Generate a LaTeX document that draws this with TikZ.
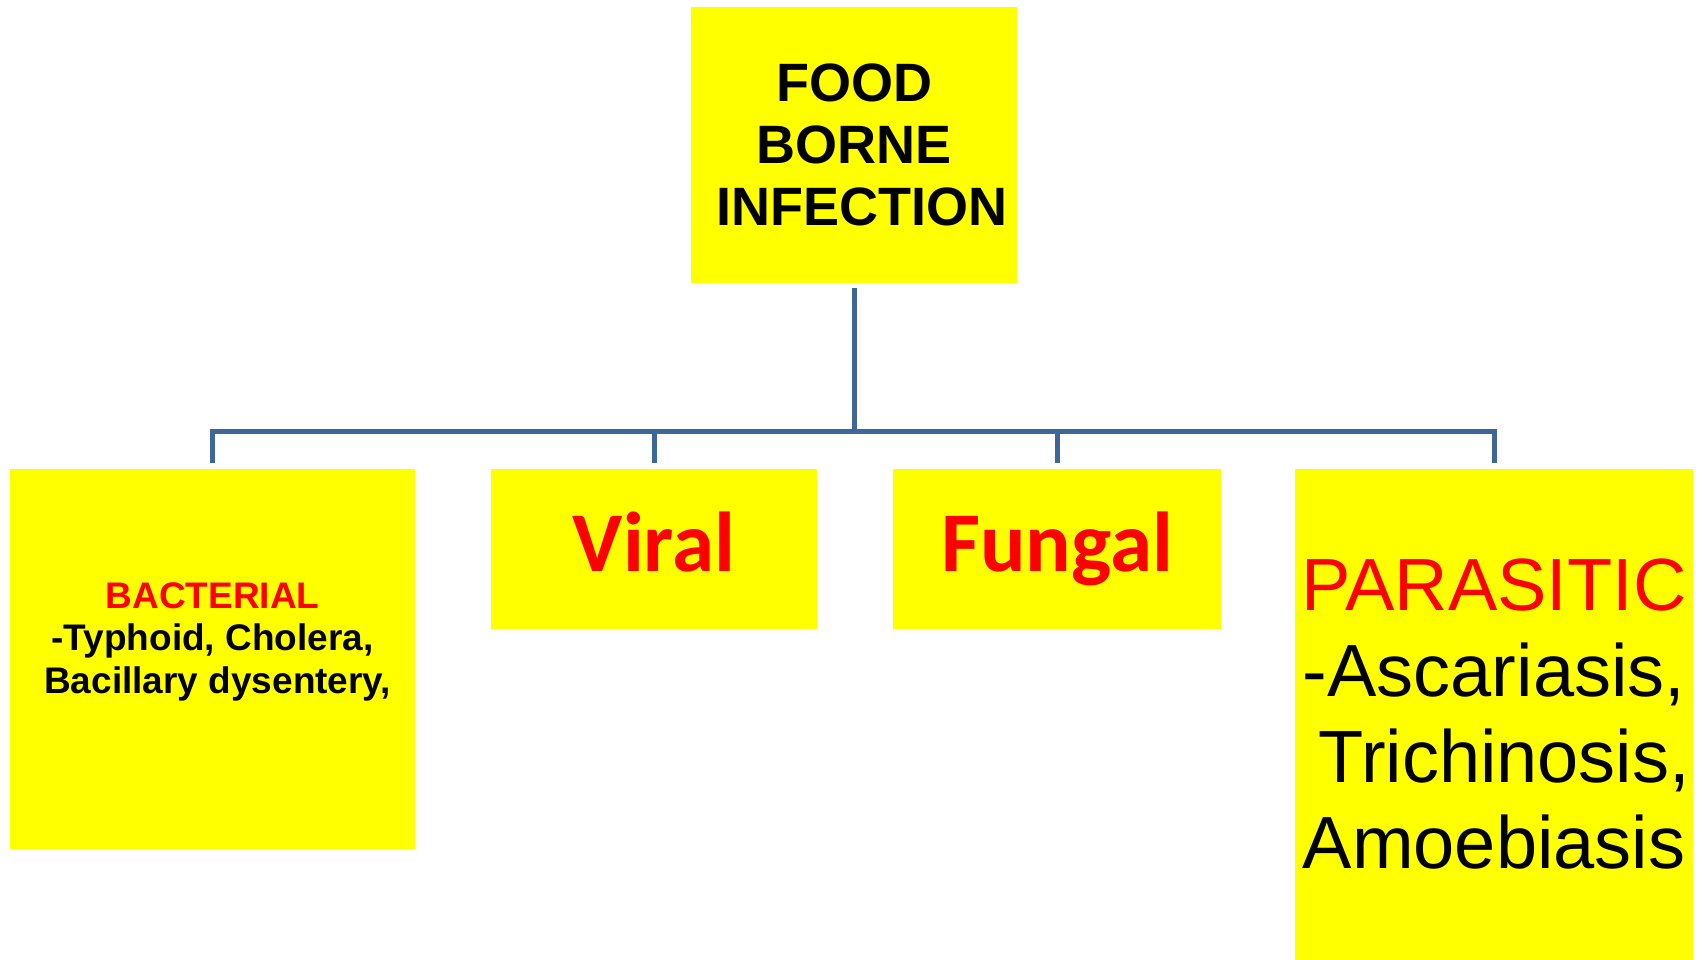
\documentclass[tikz,border=0pt]{standalone}
\usepackage{fontspec}
\newfontfamily\arialfam{Liberation Sans}
\newfontfamily\calibrifam{Carlito}
\definecolor{ylw}{RGB}{255,255,0}
\definecolor{rd}{RGB}{255,0,0}
\definecolor{lnblue}{RGB}{62,103,153}
\tikzset{
  box/.style={fill=ylw, draw=none, inner sep=0pt, align=center, anchor=center},
  conn/.style={draw=lnblue, line width=5pt},
}
\begin{document}
\begin{tikzpicture}[x=1pt,y=-1pt]
\useasboundingbox (0,0) rectangle (1703,960);
\node[box, minimum width=326pt, minimum height=276pt,
      font={\arialfam\bfseries\fontsize{54}{62}\selectfont}] (root) at (854,145)
      {FOOD\\BORNE\\\mbox{}\ INFECTION};
\node[box, minimum width=405pt, minimum height=380pt,
      font={\arialfam\bfseries\fontsize{37}{42.5}\selectfont}] (bact) at (212.5,659)
      {\textcolor{rd}{BACTERIAL}\\-Typhoid, Cholera,\\\mbox{}\ Bacillary dysentery,\\\mbox{}};
\node[box, minimum width=326pt, minimum height=160pt, text height=60pt, text depth=16pt,
      text=rd, font={\calibrifam\bfseries\fontsize{85}{100}\selectfont}] (viral) at (654,549)
      {Viral};
\node[box, minimum width=328pt, minimum height=160pt, text height=60pt, text depth=16pt,
      text=rd, font={\calibrifam\bfseries\fontsize{85}{100}\selectfont}] (fungal) at (1057,549)
      {Fungal};
\node[box, minimum width=398pt, minimum height=491pt,
      font={\arialfam\fontsize{74}{86}\selectfont}] (para) at (1494,714.5)
      {\textcolor{rd}{PARASITIC}\\-Ascariasis,\\\mbox{}\ Trichinosis,\\Amoebiasis};
\coordinate (bus) at (854,431);
\draw[conn, shorten <=5pt] (root.south) -- (root.south |- bus);
\draw[conn, shorten <=6pt, shorten >=6pt] (bact.north) -- (bact.north |- bus) -- (para.north |- bus) -- (para.north);
\draw[conn, shorten >=6pt] (viral.north |- bus) -- (viral.north);
\draw[conn, shorten >=6pt] (fungal.north |- bus) -- (fungal.north);
\end{tikzpicture}
\end{document}
